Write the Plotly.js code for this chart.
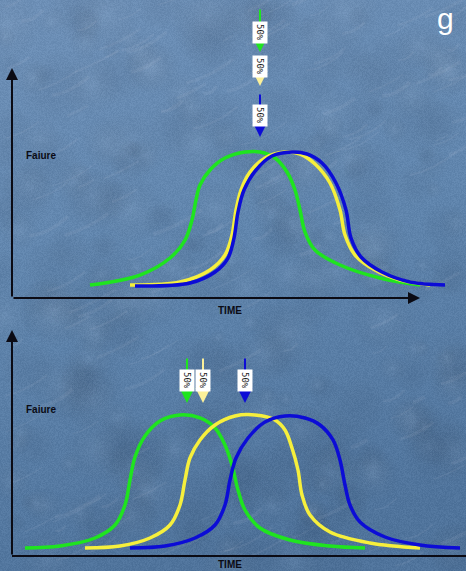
<!DOCTYPE html>
<html>
<head>
<meta charset="utf-8">
<script src="https://cdn.plot.ly/plotly-3.0.1.min.js"></script>
<style>
  html, body { margin: 0; padding: 0; background: #5a7ea6; }
  #chart { width: 466px; height: 571px; }
</style>
</head>
<body>
<div id="chart"></div>
<script>
// ---- Failure distributions over time (upper panel) ----
const topGreenT = [78,128,158,173,180,184,188,198,213,233,248,263,275,283,288,293,303,328,368,408];
const topGreenF = [13,23,40,58,78,98,113,128,140,146,146,140,126,108,88,66,48,33,20,13];
const topYellowT = [118,168,198,213,220,224,229,238,253,273,288,303,318,328,333,343,363,388,418];
const topYellowF = [13,16,28,43,63,88,108,126,140,146,144,134,115,88,63,43,28,18,13];
const topBlueT = [123,178,203,216,222,226,232,244,260,280,295,310,324,334,339,349,370,398,433];
const topBlueF = [12,15,26,40,60,86,108,128,142,146,144,135,115,88,60,41,26,16,13];

// ---- Failure distributions over time (lower panel) ----
const botGreenT = [13,48,83,103,113,118,123,133,148,168,188,203,213,220,226,233,248,278,318,353];
const botGreenF = [8,10,18,31,51,76,99,120,135,141,138,128,111,91,66,46,28,16,10,8];
const botYellowT = [73,108,138,158,168,173,178,188,203,223,243,263,273,280,286,290,298,318,358,408];
const botYellowF = [8,10,18,31,51,76,98,116,131,140,141,136,126,108,86,61,41,24,13,8];
const botBlueT = [118,153,183,203,213,218,224,236,253,273,293,308,321,328,333,338,348,373,408,448];
const botBlueF = [8,10,18,31,51,76,98,118,134,140,138,131,116,96,71,51,34,19,11,8];

// ---- 50% markers: time position, arrow start/end and label height ----
const markerLabel = "50%";
const topMarkerT = [248, 248, 248];
const topMarkerFrom = [290, 243, 205];
const topMarkerTo = [246, 212, 161];
const topMarkerLabelF = [266, 232, 183];
const botMarkerT = [175, 191, 233];
const botMarkerFrom = [199, 199, 199];
const botMarkerTo = [153, 153, 153];
const botMarkerLabelF = [176, 176, 176];

const GREEN = "#1fe41f";
const YELLOW = "#f6ef3c";
const BLUE = "#0c0cd6";
const markerColors = [GREEN, "#fbf09a", BLUE];

// Stone-like blue backdrop drawn on a canvas
function makeBackdrop(w, h) {
  const c = document.createElement("canvas");
  c.width = w; c.height = h;
  const ctx = c.getContext("2d");
  const g = ctx.createLinearGradient(0, 0, w * 0.3, h);
  g.addColorStop(0, "#6e90b7");
  g.addColorStop(0.5, "#6085ad");
  g.addColorStop(1, "#50749c");
  ctx.fillStyle = g;
  ctx.fillRect(0, 0, w, h);
  let s = 12345;
  const rnd = () => { s = (s * 1103515245 + 12345) & 0x7fffffff; return s / 0x7fffffff; };
  // soft mottling
  for (let k = 0; k < 260; k++) {
    const x = rnd() * w, y = rnd() * h, r = 8 + rnd() * 30;
    const rg = ctx.createRadialGradient(x, y, 0, x, y, r);
    const light = rnd() > 0.5;
    rg.addColorStop(0, light ? "rgba(210,225,245,0.08)" : "rgba(30,50,80,0.07)");
    rg.addColorStop(1, "rgba(0,0,0,0)");
    ctx.fillStyle = rg;
    ctx.fillRect(x - r, y - r, 2 * r, 2 * r);
  }
  const img = ctx.getImageData(0, 0, w, h);
  const d = img.data;
  for (let i = 0; i < d.length; i += 4) {
    const n = (rnd() - 0.5) * 12;
    d[i] += n; d[i + 1] += n; d[i + 2] += n;
  }
  ctx.putImageData(img, 0, 0);
  ctx.globalAlpha = 0.07;
  ctx.strokeStyle = "#dfe9f5";
  for (let k = 0; k < 140; k++) {
    const x = rnd() * w, y = rnd() * h, len = 10 + rnd() * 40;
    ctx.lineWidth = 1 + rnd() * 3;
    ctx.beginPath();
    ctx.moveTo(x, y);
    ctx.quadraticCurveTo(x + len * 0.5, y - len * 0.2 + rnd() * 6, x + len, y - len * 0.5);
    ctx.stroke();
  }
  return c.toDataURL("image/png");
}

function curve(t, f, color, xa, ya) {
  return {
    x: t, y: f, xaxis: xa, yaxis: ya, type: "scatter", mode: "lines",
    line: { color: color, width: 3.5, shape: "spline", smoothing: 1 },
    hoverinfo: "skip", showlegend: false
  };
}

const data = [
  curve(topGreenT, topGreenF, GREEN, "x", "y"),
  curve(topYellowT, topYellowF, YELLOW, "x", "y"),
  curve(topBlueT, topBlueF, BLUE, "x", "y"),
  curve(botGreenT, botGreenF, GREEN, "x2", "y2"),
  curve(botYellowT, botYellowF, YELLOW, "x2", "y2"),
  curve(botBlueT, botBlueF, BLUE, "x2", "y2")
];

const annotations = [];
const AXIS_COLOR = "#0b0b14";

// axis arrows
function axisArrow(xr, yr, x, y) {
  annotations.push({
    xref: xr, yref: yr, axref: xr, ayref: yr,
    x: x, y: y, ax: 0, ay: 0, text: "", showarrow: true,
    arrowhead: 2, arrowsize: 1.2, arrowwidth: 2, arrowcolor: AXIS_COLOR
  });
}
axisArrow("x", "y", 0, 230);
axisArrow("x", "y", 408, 0);
axisArrow("x2", "y2", 0, 226);

// lower time axis runs off the right edge
const shapes = [{
  type: "line", xref: "x2", yref: "y2", x0: 0, y0: 0, x1: 460, y1: 0,
  line: { color: AXIS_COLOR, width: 2 }
}];

// axis captions
const captionFont = { family: "Liberation Sans, Arial, sans-serif", size: 10, color: AXIS_COLOR };
annotations.push({ xref: "x", yref: "y", x: 12, y: 143, text: "<b>Faiure</b>", showarrow: false, xanchor: "left", font: captionFont });
annotations.push({ xref: "x", yref: "y", x: 218, y: -12, text: "<b>TIME</b>", showarrow: false, font: captionFont });
annotations.push({ xref: "x2", yref: "y2", x: 12, y: 146, text: "<b>Faiure</b>", showarrow: false, xanchor: "left", font: captionFont });
annotations.push({ xref: "x2", yref: "y2", x: 218, y: -9, text: "<b>TIME</b>", showarrow: false, font: captionFont });

// 50% markers
function marker(xr, yr, t, from, to, labF, color) {
  annotations.push({
    xref: xr, yref: yr, axref: xr, ayref: yr,
    x: t, y: to, ax: t, ay: from, text: "", showarrow: true,
    arrowhead: 2, arrowsize: 1.5, arrowwidth: 2, arrowcolor: color
  });
  annotations.push({
    xref: xr, yref: yr, x: t, y: labF, text: markerLabel, showarrow: false,
    textangle: 90, bgcolor: "#ffffff", borderpad: 2,
    font: { family: "DejaVu Sans Mono, monospace", size: 9, color: "#1a1a1a" }
  });
}
for (let i = 0; i < 3; i++) {
  marker("x", "y", topMarkerT[i], topMarkerFrom[i], topMarkerTo[i], topMarkerLabelF[i], markerColors[i]);
  marker("x2", "y2", botMarkerT[i], botMarkerFrom[i], botMarkerTo[i], botMarkerLabelF[i], markerColors[i]);
}

// heading glyph in the top-right corner
annotations.push({
  xref: "paper", yref: "paper", x: 445 / 466, y: 1, xanchor: "center", yanchor: "top",
  text: "g", showarrow: false,
  font: { family: "Liberation Sans, Arial, sans-serif", size: 30, color: "#ffffff" }
});

const hiddenAxis = { showgrid: false, zeroline: false, showticklabels: false, ticks: "", showline: false, fixedrange: true };

const layout = {
  width: 466, height: 571,
  margin: { l: 0, r: 0, t: 0, b: 0 },
  paper_bgcolor: "#5a7ea6",
  plot_bgcolor: "rgba(0,0,0,0)",
  showlegend: false,
  xaxis: Object.assign({}, hiddenAxis, { range: [-12, 454], domain: [0, 1], anchor: "y" }),
  yaxis: Object.assign({}, hiddenAxis, { range: [-17, 298], domain: [0.4483, 1], anchor: "x" }),
  xaxis2: Object.assign({}, hiddenAxis, { range: [-12, 454], domain: [0, 1], anchor: "y2" }),
  yaxis2: Object.assign({}, hiddenAxis, { range: [-15, 238], domain: [0, 0.4431], anchor: "x2" }),
  images: [{
    source: makeBackdrop(466, 571), xref: "paper", yref: "paper",
    x: 0, y: 1, sizex: 1, sizey: 1, sizing: "stretch", layer: "below"
  }],
  shapes: shapes,
  annotations: annotations
};

Plotly.newPlot("chart", data, layout, { staticPlot: true, displayModeBar: false });
</script>
</body>
</html>
